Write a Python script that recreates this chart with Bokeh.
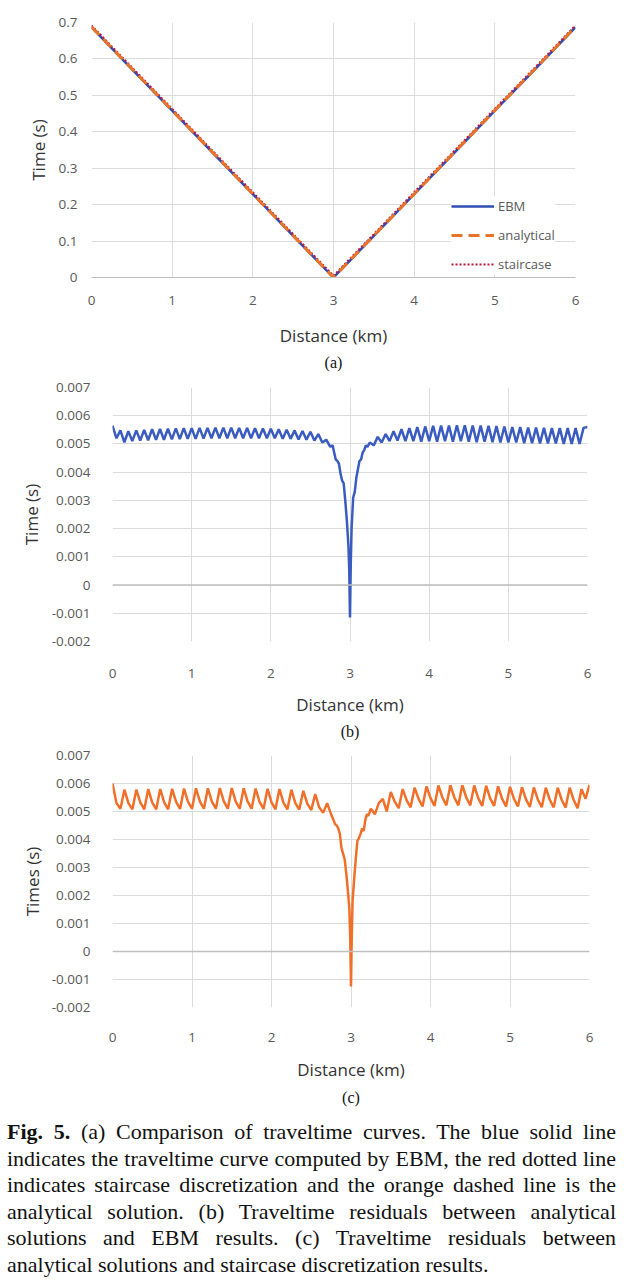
from bokeh.plotting import figure
from bokeh.models import (Range1d, FixedTicker, CustomJSTickFormatter, Span, Title,
                          Legend, LegendItem, Div)
from bokeh.layouts import column, row
from bokeh.embed import file_html
from bokeh.resources import INLINE

# ---------------- data ----------------
x_ticks = [0, 1, 2, 3, 4, 5, 6]
y_ticks_a = [0, 0.1, 0.2, 0.3, 0.4, 0.5, 0.6, 0.7]
y_ticks_res = [-0.002, -0.001, 0, 0.001, 0.002, 0.003, 0.004, 0.005, 0.006, 0.007]

dist_a = [0.0, 0.5, 1.0, 1.5, 2.0, 2.5, 3.0, 3.5, 4.0, 4.5, 5.0, 5.5, 6.0]
ebm_a = [0.687, 0.572, 0.458, 0.343, 0.229, 0.114, 0.0, 0.114, 0.229, 0.343, 0.458, 0.572, 0.687]
analytical_a = [0.688, 0.573, 0.459, 0.344, 0.229, 0.115, 0.0, 0.115, 0.229, 0.344, 0.459, 0.573, 0.688]
staircase_a = [0.692, 0.577, 0.463, 0.348, 0.234, 0.119, 0.005, 0.119, 0.234, 0.348, 0.463, 0.577, 0.692]

dist_b = [0.00, 0.05, 0.10, 0.15, 0.20, 0.25, 0.30, 0.35, 0.40, 0.45, 0.50, 0.55, 0.60, 0.65,
          0.70, 0.75, 0.80, 0.85, 0.90, 0.95, 1.00, 1.05, 1.10, 1.15, 1.20, 1.25, 1.30, 1.35,
          1.40, 1.45, 1.50, 1.55, 1.60, 1.65, 1.70, 1.75, 1.80, 1.85, 1.90, 1.95, 2.00, 2.05,
          2.10, 2.15, 2.20, 2.25, 2.30, 2.35, 2.40, 2.45, 2.50, 2.55, 2.60, 2.65, 2.70, 2.75,
          2.78, 2.80, 2.82, 2.84, 2.86, 2.88, 2.90, 2.92, 2.94, 2.96, 2.98, 2.99, 3.00, 3.01,
          3.02, 3.04, 3.06, 3.08, 3.10, 3.12, 3.14, 3.16, 3.18, 3.20, 3.22, 3.25, 3.30, 3.35,
          3.40, 3.45, 3.50, 3.55, 3.60, 3.65, 3.70, 3.75, 3.80, 3.85, 3.90, 3.95, 4.00, 4.05,
          4.10, 4.15, 4.20, 4.25, 4.30, 4.35, 4.40, 4.45, 4.50, 4.55, 4.60, 4.65, 4.70, 4.75,
          4.80, 4.85, 4.90, 4.95, 5.00, 5.05, 5.10, 5.15, 5.20, 5.25, 5.30, 5.35, 5.40, 5.45,
          5.50, 5.55, 5.60, 5.65, 5.70, 5.75, 5.80, 5.85, 5.90, 5.95, 6.00]
resid_ebm = [0.00565, 0.00520, 0.00548, 0.00506, 0.00545, 0.00510, 0.00548, 0.00512, 0.00550,
             0.00513, 0.00552, 0.00515, 0.00553, 0.00515, 0.00554, 0.00516, 0.00555, 0.00517,
             0.00556, 0.00518, 0.00556, 0.00518, 0.00557, 0.00519, 0.00557, 0.00520, 0.00558,
             0.00520, 0.00558, 0.00520, 0.00558, 0.00520, 0.00557, 0.00520, 0.00557, 0.00520,
             0.00556, 0.00520, 0.00555, 0.00520, 0.00554, 0.00520, 0.00552, 0.00518, 0.00550,
             0.00518, 0.00548, 0.00516, 0.00546, 0.00515, 0.00543, 0.00512, 0.00535, 0.00505,
             0.00515, 0.00490,
             0.00495, 0.00470, 0.00445, 0.00440, 0.00430, 0.00395, 0.00370, 0.00360, 0.00300,
             0.00230, 0.00140, 0.00060, -0.00115, 0.00080, 0.00200, 0.00310, 0.00330, 0.00380,
             0.00410, 0.00440, 0.00445, 0.00470, 0.00478, 0.00495, 0.00490,
             0.00505, 0.00495, 0.00525, 0.00505, 0.00535, 0.00510, 0.00545, 0.00512, 0.00552,
             0.00510, 0.00556, 0.00510, 0.00560, 0.00508, 0.00562, 0.00510, 0.00564, 0.00508,
             0.00565, 0.00510, 0.00565, 0.00508, 0.00566, 0.00510, 0.00566, 0.00508, 0.00565,
             0.00506, 0.00565, 0.00508, 0.00564, 0.00506, 0.00563, 0.00505, 0.00562, 0.00505,
             0.00560, 0.00505, 0.00560, 0.00503, 0.00558, 0.00503, 0.00558, 0.00502, 0.00557,
             0.00502, 0.00556, 0.00502, 0.00556, 0.00500, 0.00556, 0.00500, 0.00556, 0.00500,
             0.00557, 0.00560]

dist_c = [0.00, 0.05, 0.10, 0.15, 0.20, 0.25, 0.30, 0.35, 0.40, 0.45, 0.50, 0.55, 0.60, 0.65,
          0.70, 0.75, 0.80, 0.85, 0.90, 0.95, 1.00, 1.05, 1.10, 1.15, 1.20, 1.25, 1.30, 1.35,
          1.40, 1.45, 1.50, 1.55, 1.60, 1.65, 1.70, 1.75, 1.80, 1.85, 1.90, 1.95, 2.00, 2.05,
          2.10, 2.15, 2.20, 2.25, 2.30, 2.35, 2.40, 2.45, 2.50, 2.55, 2.60, 2.65, 2.70, 2.75,
          2.78, 2.80, 2.82, 2.84, 2.86, 2.88, 2.90, 2.92, 2.94, 2.96, 2.98, 2.99, 3.00, 3.01,
          3.02, 3.04, 3.06, 3.08, 3.10, 3.12, 3.14, 3.16, 3.18, 3.20, 3.22, 3.25, 3.30, 3.35,
          3.40, 3.45, 3.50, 3.55, 3.60, 3.65, 3.70, 3.75, 3.80, 3.85, 3.90, 3.95, 4.00, 4.05,
          4.10, 4.15, 4.20, 4.25, 4.30, 4.35, 4.40, 4.45, 4.50, 4.55, 4.60, 4.65, 4.70, 4.75,
          4.80, 4.85, 4.90, 4.95, 5.00, 5.05, 5.10, 5.15, 5.20, 5.25, 5.30, 5.35, 5.40, 5.45,
          5.50, 5.55, 5.60, 5.65, 5.70, 5.75, 5.80, 5.85, 5.90, 5.95, 6.00]
resid_stair = [0.00600, 0.00530, 0.00510, 0.00578, 0.00530, 0.00508, 0.00578, 0.00532, 0.00508,
               0.00580, 0.00532, 0.00508, 0.00580, 0.00533, 0.00508, 0.00581, 0.00534, 0.00509,
               0.00582, 0.00534, 0.00510, 0.00583, 0.00535, 0.00510, 0.00583, 0.00535, 0.00510,
               0.00584, 0.00536, 0.00510, 0.00584, 0.00535, 0.00510, 0.00583, 0.00535, 0.00510,
               0.00582, 0.00534, 0.00509, 0.00581, 0.00533, 0.00508, 0.00580, 0.00532, 0.00508,
               0.00578, 0.00530, 0.00507, 0.00574, 0.00528, 0.00505, 0.00562, 0.00515, 0.00495,
               0.00530, 0.00490,
               0.00470, 0.00455, 0.00450, 0.00440, 0.00420, 0.00370, 0.00350, 0.00330, 0.00280,
               0.00220, 0.00150, 0.00050, -0.00125, 0.00060, 0.00180, 0.00260, 0.00330, 0.00395,
               0.00405, 0.00420, 0.00440, 0.00430, 0.00470, 0.00490, 0.00485,
               0.00510, 0.00490, 0.00530, 0.00545, 0.00500, 0.00570, 0.00535, 0.00512, 0.00580,
               0.00540, 0.00515, 0.00585, 0.00545, 0.00518, 0.00590, 0.00548, 0.00520, 0.00593,
               0.00550, 0.00522, 0.00594, 0.00550, 0.00522, 0.00594, 0.00550, 0.00522, 0.00593,
               0.00548, 0.00520, 0.00592, 0.00547, 0.00520, 0.00590, 0.00546, 0.00518, 0.00588,
               0.00545, 0.00518, 0.00587, 0.00544, 0.00516, 0.00586, 0.00543, 0.00515, 0.00585,
               0.00542, 0.00515, 0.00585, 0.00542, 0.00514, 0.00585, 0.00542, 0.00512, 0.00580,
               0.00545, 0.00595]

caption_lines = [
    "<b>Fig. 5.</b> (a) Comparison of traveltime curves. The blue solid line",
    "indicates the traveltime curve computed by EBM, the red dotted line",
    "indicates staircase discretization and the orange dashed line is the",
    "analytical solution. (b) Traveltime residuals between analytical",
    "solutions and EBM results. (c) Traveltime residuals between",
    "analytical solutions and staircase discretization results.",
]

# ---------------- styling helpers ----------------
FONT = "Open Sans"
GRID = "#dcdcdc"
FIG_W = 623
fmt = CustomJSTickFormatter(code="return parseFloat(tick.toFixed(4)).toString();")


def make_fig(height, ylim, yticks, ylabel, panel, mb_left, mb_right, mb_top, mb_bottom,
             xstand, xlab_stand, ystand, ylab_stand, title_stand):
    p = figure(width=FIG_W, height=height, x_range=Range1d(0, 6), y_range=Range1d(*ylim),
               output_backend="svg", toolbar_location=None,
               min_border_left=mb_left, min_border_right=mb_right,
               min_border_top=mb_top, min_border_bottom=mb_bottom)
    p.outline_line_color = None
    p.background_fill_color = "white"
    p.border_fill_color = "white"
    p.xaxis.ticker = FixedTicker(ticks=x_ticks)
    p.yaxis.ticker = FixedTicker(ticks=yticks)
    p.xaxis.formatter = fmt
    p.yaxis.formatter = fmt
    p.xgrid.ticker = FixedTicker(ticks=x_ticks)
    p.ygrid.ticker = FixedTicker(ticks=yticks)
    for g in (p.xgrid, p.ygrid):
        g.grid_line_color = GRID
        g.grid_line_width = 1
    for ax in (p.xaxis, p.yaxis):
        ax.major_tick_line_color = None
        ax.minor_tick_line_color = None
        ax.axis_line_color = None
        ax.major_label_text_font = FONT
        ax.major_label_text_font_size = "13.5px"
        ax.major_label_text_color = "#595959"
        ax.axis_label_text_font = FONT
        ax.axis_label_text_font_size = "17px"
        ax.axis_label_text_font_style = "normal"
        ax.axis_label_text_color = "#333333"
    p.xaxis.axis_label = "Distance (km)"
    p.yaxis.axis_label = ylabel
    p.xaxis.major_label_standoff = xstand
    p.xaxis.axis_label_standoff = xlab_stand
    p.yaxis.major_label_standoff = ystand
    p.yaxis.axis_label_standoff = ylab_stand
    p.add_layout(Title(text=panel, align="center", text_font="Liberation Serif",
                       text_font_size="16px", text_font_style="normal",
                       text_color="#111111", standoff=title_stand), "below")
    return p


# ---------------- panel (a) ----------------
pa = make_fig(372, (0, 0.7), y_ticks_a, "Time (s)", "(a)", 91, 48, 22, 88,
              12, 16, 8, 6, 4)
pa.xaxis.axis_line_color = "#bfbfbf"
r_ebm = pa.line(dist_a, ebm_a, line_color="#2f4fb5", line_width=2.5)
r_st = pa.line(dist_a, staircase_a, line_color="#c0143c", line_width=2, line_dash="2 2")
r_an = pa.line(dist_a, analytical_a, line_color="#e8742a", line_width=3, line_dash="11 6")
leg = Legend(items=[LegendItem(label="EBM", renderers=[r_ebm]),
                    LegendItem(label="analytical", renderers=[r_an]),
                    LegendItem(label="staircase", renderers=[r_st])],
             location=(360, 3), glyph_width=43, glyph_height=20, label_standoff=4,
             spacing=9, padding=6, margin=0, border_line_color=None,
             background_fill_color="white", background_fill_alpha=1,
             label_text_font=FONT, label_text_font_size="13px",
             label_text_color="#595959", label_height=20)
pa.add_layout(leg)

# ---------------- panel (b) ----------------
pb = make_fig(370, (-0.002, 0.007), y_ticks_res, "Time (s)", "(b)", 112, 36, 15, 95,
              21, 12, 16, 6, 5)
pb.add_layout(Span(location=0, dimension="width", line_color="#bfbfbf", line_width=1.5))
pb.line(dist_b, resid_ebm, line_color="#3a5cc0", line_width=2.5)

# ---------------- panel (c) ----------------
pc = make_fig(366, (-0.002, 0.007), y_ticks_res, "Times (s)", "(c)", 112, 34, 13, 91,
              19, 13, 16, 5, 6)
pc.add_layout(Span(location=0, dimension="width", line_color="#bfbfbf", line_width=1.5))
pc.line(dist_c, resid_stair, line_color="#f0702a", line_width=2.5)

# ---------------- caption ----------------
rows = []
for i, t in enumerate(caption_lines):
    last = "left" if i == len(caption_lines) - 1 else "justify"
    rows.append(f'<div style="text-align:justify;text-align-last:{last};white-space:nowrap;">{t}</div>')
html = ('<div style="font-family:\'Liberation Serif\',serif;font-size:22px;line-height:26.6px;'
        'color:#111111;width:611px;padding-top:6px;padding-left:2px;">' + "".join(rows) + "</div>")
cap = Div(text=html, width=FIG_W, height=172)

layout = column(row(pa), row(pb), row(pc), cap, spacing=0)
open("out.html", "w").write(file_html(layout, INLINE))
